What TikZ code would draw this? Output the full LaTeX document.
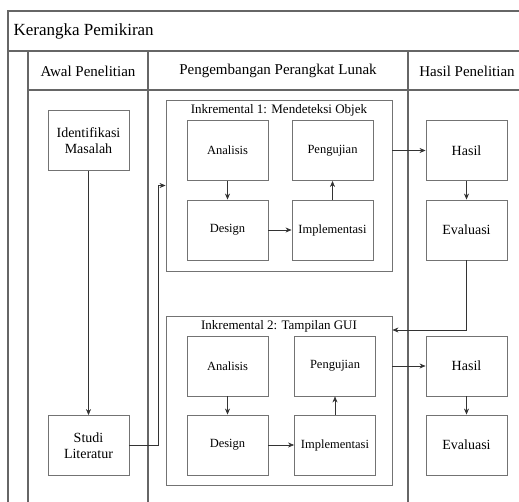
\documentclass[tikz,border=0pt]{standalone}
\usepackage{fontspec}
\setmainfont{Liberation Serif}
\usetikzlibrary{arrows.meta}

\begin{document}
\begin{tikzpicture}
  [x=1pt,y=-1pt,
   box/.style={draw=black!55,line width=0.9pt,minimum width=81pt,minimum height=60pt,
     align=center,inner sep=1pt,font=\fontsize{14}{16}\selectfont},
   sbox/.style={box,font=\fontsize{12.5}{14}\selectfont},
   grp/.style={draw=black!55,line width=0.9pt,minimum width=226pt},
   grptitle/.style={anchor=north,inner sep=5pt,font=\fontsize{13}{15}\selectfont},
   lane/.style={draw=black!60,line width=1.1pt},
   head/.style={font=\fontsize{15}{17}\selectfont},
   arr/.style={-{Stealth[length=6pt,width=5pt]},black!80,line width=0.6pt}]
  \useasboundingbox (0,0) rectangle (519,502);
  \clip (0,0) rectangle (519,502);
  % swimlanes
  \draw[lane] (8,530) |- (530,11);
  \draw[lane] (8,51) -- (530,51);
  \draw[lane] (28,90) -- (530,90);
  \foreach \x in {28,148,408}
    \draw[lane] (\x,51) -- (\x,530);
  \node[anchor=west,font=\fontsize{17}{19}\selectfont] (judul) at (10,31) {Kerangka Pemikiran};
  \node[head] (hawal) at (88,71) {Awal Penelitian};
  \node[head] (hpl) at (278,71) {Pengembangan Perangkat Lunak};
  \node[head] (hhasil) at (467,71) {Hasil Penelitian};
  % awal penelitian
  \node[box] (idm) at (88.5,140.5) {Identifikasi\\Masalah};
  \node[box] (studi) at (88.5,445.5) {Studi\\Literatur};
  % inkremental
  \node[grp,minimum height=171pt] (ink1) at (279,185.5) {};
  \node[grptitle] (tink1) at (ink1.north) {Inkremental 1: Mendeteksi Objek};
  \node[sbox] (an1) at (227.5,150.5) {Analisis};
  \node[sbox] (pe1) at (332.5,150.5) {Pengujian};
  \node[sbox] (de1) at (227.5,230) {Design};
  \node[sbox] (im1) at (332.5,230) {Implementasi};
  \node[grp,minimum height=169pt] (ink2) at (279,400.5) {};
  \node[grptitle] (tink2) at (ink2.north) {Inkremental 2: Tampilan GUI};
  \node[sbox] (an2) at (227.5,366) {Analisis};
  \node[sbox] (pe2) at (335,366) {Pengujian};
  \node[sbox] (de2) at (227.5,445) {Design};
  \node[sbox] (im2) at (335,445) {Implementasi};
  % hasil penelitian
  \node[box] (ha1) at (466.5,150.5) {Hasil};
  \node[box] (ev1) at (466.5,230) {Evaluasi};
  \node[box] (ha2) at (466.5,366) {Hasil};
  \node[box] (ev2) at (466.5,445) {Evaluasi};
  \coordinate (kbalik) at (466.5,330);
  \foreach \from/\to in {idm/studi,an1/de1,de1/im1,im1/pe1,an2/de2,de2/im2,im2/pe2,ha1/ev1,ha2/ev2}
    \draw[arr] (\from) -- (\to);
  \draw[arr] (studi.east) -- ++(29,0) |- (ink1.west);
  \draw[arr] (ha1 -| ink1.east) -- (ha1.west);
  \draw[arr] (ha2 -| ink2.east) -- (ha2.west);
  \draw[arr] (ev1.south) -- (kbalik) -- (kbalik -| ink2.east);
\end{tikzpicture}
\end{document}
